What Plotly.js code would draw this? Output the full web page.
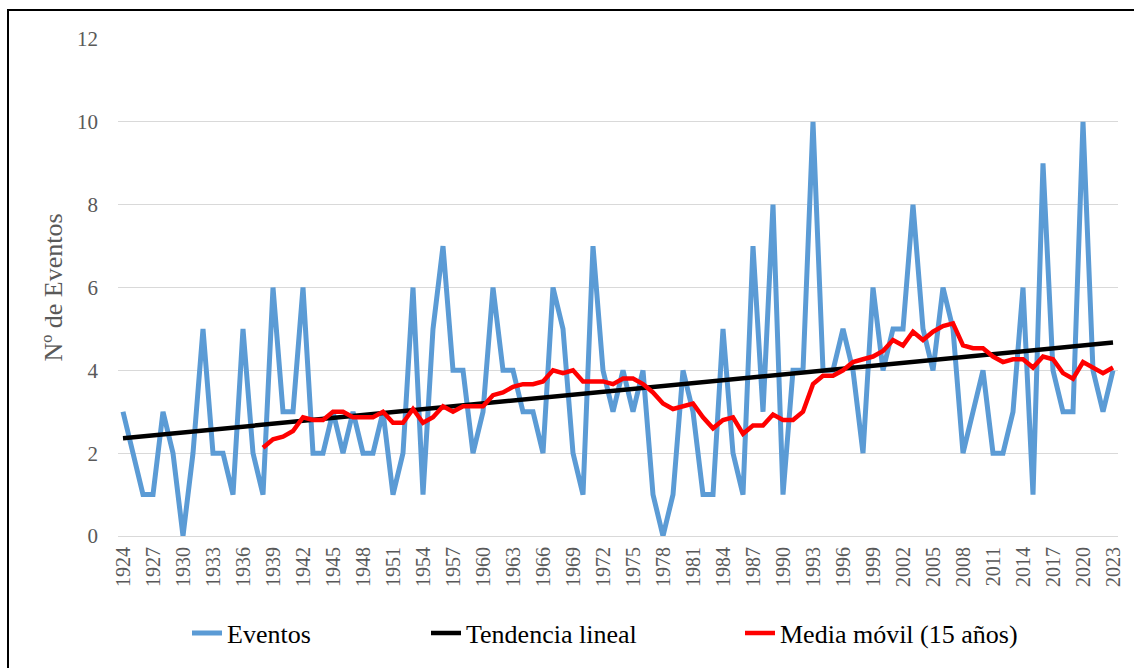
<!DOCTYPE html>
<html><head><meta charset="utf-8">
<script src="https://cdn.plot.ly/plotly-3.0.1.min.js"></script>
<style>
html,body{margin:0;padding:0;background:#fff;overflow:hidden}
#chart{width:1134px;height:668px;position:absolute;left:0;top:0}
#frame{position:absolute;left:7px;top:9px;width:1140px;height:700px;border:2px solid #000;pointer-events:none}
</style></head><body>
<div id="chart"></div><div id="frame"></div>
<script>
const years = [1924,1925,1926,1927,1928,1929,1930,1931,1932,1933,1934,1935,1936,1937,1938,1939,1940,1941,1942,1943,
1944,1945,1946,1947,1948,1949,1950,1951,1952,1953,1954,1955,1956,1957,1958,1959,1960,1961,1962,1963,
1964,1965,1966,1967,1968,1969,1970,1971,1972,1973,1974,1975,1976,1977,1978,1979,1980,1981,1982,1983,
1984,1985,1986,1987,1988,1989,1990,1991,1992,1993,1994,1995,1996,1997,1998,1999,2000,2001,2002,2003,
2004,2005,2006,2007,2008,2009,2010,2011,2012,2013,2014,2015,2016,2017,2018,2019,2020,2021,2022,2023];

const eventos = [3,2,1,1,3,2,0,2,5,2,2,1,5,2,1,6,3,3,6,2,
2,3,2,3,2,2,3,1,2,6,1,5,7,4,4,2,3,6,4,4,
3,3,2,6,5,2,1,7,4,3,4,3,4,1,0,1,4,3,1,1,
5,2,1,7,3,8,1,4,4,10,4,4,5,4,2,6,4,5,5,8,
5,4,6,5,2,3,4,2,2,3,6,1,9,4,3,3,10,4,3,4];

const trendYears = [1924, 2023];
const trendValues = [2.36, 4.67];

const maYears = [1938,1939,1940,1941,1942,1943,1944,1945,1946,1947,1948,1949,1950,1951,1952,1953,1954,1955,1956,1957,
1958,1959,1960,1961,1962,1963,1964,1965,1966,1967,1968,1969,1970,1971,1972,1973,1974,1975,1976,1977,
1978,1979,1980,1981,1982,1983,1984,1985,1986,1987,1988,1989,1990,1991,1992,1993,1994,1995,1996,1997,
1998,1999,2000,2001,2002,2003,2004,2005,2006,2007,2008,2009,2010,2011,2012,2013,2014,2015,2016,2017,
2018,2019,2020,2021,2022,2023];
const maValues = [2.133,2.333,2.4,2.533,2.867,2.8,2.8,3.0,3.0,2.867,2.867,2.867,3.0,2.733,2.733,3.067,2.733,2.867,3.133,3.0,
3.133,3.133,3.133,3.4,3.467,3.6,3.667,3.667,3.733,4.0,3.933,4.0,3.733,3.733,3.733,3.667,3.8,3.8,3.667,3.467,
3.2,3.067,3.133,3.2,2.867,2.6,2.8,2.867,2.467,2.667,2.667,2.933,2.8,2.8,3.0,3.667,3.867,3.867,4.0,4.2,
4.267,4.333,4.467,4.733,4.6,4.933,4.733,4.933,5.067,5.133,4.6,4.533,4.533,4.333,4.2,4.267,4.267,4.067,4.333,4.267,
3.933,3.8,4.2,4.067,3.933,4.067];

const tickYears = [1924,1927,1930,1933,1936,1939,1942,1945,1948,1951,1954,1957,1960,1963,1966,1969,1972,1975,1978,1981,
1984,1987,1990,1993,1996,1999,2002,2005,2008,2011,2014,2017,2020,2023];
const tickLabels = tickYears.map(String);

const FONT = "'Liberation Serif', 'DejaVu Serif', serif";
const GREY = '#595959';

const traces = [
  {x: years, y: eventos, type: 'scatter', mode: 'lines', name: 'Eventos',
   line: {color: '#5B9BD5', width: 5}, legend: 'legend'},
  {x: trendYears, y: trendValues, type: 'scatter', mode: 'lines', name: 'Tendencia lineal',
   line: {color: '#000000', width: 4.5}, legend: 'legend2'},
  {x: maYears, y: maValues, type: 'scatter', mode: 'lines', name: 'Media móvil (15 años)',
   line: {color: '#FF0000', width: 4.5}, legend: 'legend3'}
];

const legBase = {orientation: 'h', yanchor: 'middle', xanchor: 'left', y: -0.193,
  bgcolor: 'rgba(0,0,0,0)', font: {family: FONT, size: 26, color: '#000'}};

const layout = {
  width: 1134, height: 668,
  margin: {l: 118, r: 16, t: 39, b: 131},
  paper_bgcolor: '#fff', plot_bgcolor: '#fff',
  font: {family: FONT, color: GREY},
  showlegend: true,
  legend: Object.assign({}, legBase, {x: 0.069}),
  legend2: Object.assign({}, legBase, {x: 0.308}),
  legend3: Object.assign({}, legBase, {x: 0.622}),
  xaxis: {
    range: [1923.5, 2023.5], tickmode: 'array', tickvals: tickYears, ticktext: tickLabels,
    tickangle: -90, tickfont: {family: FONT, size: 20, color: GREY},
    showgrid: false, zeroline: false, showline: false, ticks: '', ticklabelstandoff: 6, fixedrange: true
  },
  yaxis: {
    range: [0, 12], tickmode: 'linear', tick0: 0, dtick: 2,
    tickfont: {family: FONT, size: 21, color: GREY},
    gridcolor: '#D9D9D9', gridwidth: 1, zeroline: true, zerolinecolor: '#D9D9D9', zerolinewidth: 1,
    showline: false, ticks: '', ticklabelstandoff: 19,
    title: {text: 'Nº de Eventos', font: {family: FONT, size: 26, color: GREY}, standoff: 6},
    fixedrange: true
  }
};

Plotly.newPlot('chart', traces, layout, {displayModeBar: false, staticPlot: true});
</script>
</body></html>
